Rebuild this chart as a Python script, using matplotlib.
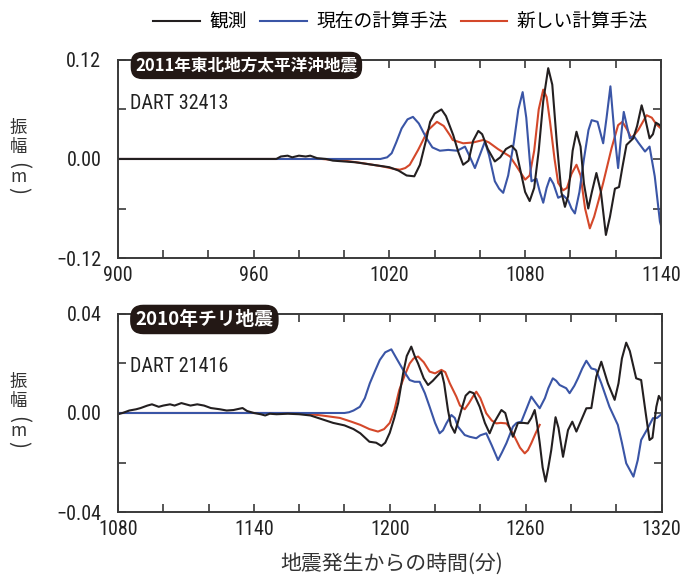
import numpy as np
import matplotlib.pyplot as plt
from matplotlib.lines import Line2D
from matplotlib.ticker import MultipleLocator, FuncFormatter

# ---- 2011 Tohoku, DART 32413 (minutes, metres) ----
top_obs_t = [900, 970, 972, 975, 977, 980, 983, 985, 988, 992, 995, 1000, 1005, 1010, 1015,
             1020, 1024, 1027.6, 1031, 1033.5, 1036.4, 1038, 1040, 1043, 1045, 1048.2, 1050.5,
             1052.6, 1055, 1057, 1059.3, 1061, 1063.5, 1066.6, 1069, 1071.5, 1074, 1076, 1078,
             1080, 1082, 1084, 1086, 1088, 1090.2, 1092, 1094, 1096, 1097.6, 1099, 1101, 1102.7,
             1104.5, 1106, 1107.9, 1109.5, 1111.5, 1113.5, 1115.7, 1117.5, 1119.7, 1121.5, 1123,
             1124.8, 1127.8, 1129.5, 1131.5, 1133, 1135, 1136.5, 1137.8, 1139, 1140]
top_obs_v = [0, 0, 0.003, 0.004, 0.002, 0.004, 0.003, 0.004, 0.001, 0, -0.002, -0.003, -0.004,
             -0.006, -0.008, -0.010, -0.014, -0.020, -0.021, -0.007, 0.025, 0.045, 0.055, 0.060,
             0.052, 0.029, 0.008, -0.007, -0.002, 0.022, 0.034, 0.030, 0.012, -0.003, 0.002,
             0.012, 0.016, 0.010, -0.015, -0.040, -0.051, -0.035, 0.010, 0.070, 0.110, 0.090,
             0.020, -0.040, -0.058, -0.045, 0.010, 0.033, 0.015, -0.030, -0.060, -0.040, -0.017,
             -0.040, -0.092, -0.070, -0.036, -0.034, -0.010, 0.017, 0.025, 0.040, 0.065, 0.050,
             0.025, 0.030, 0.044, 0.042, 0.040]

top_cur_t = [900, 1016, 1019, 1021, 1023, 1025.4, 1028, 1030.4, 1033, 1036.4, 1039, 1042.3,
             1046, 1050, 1053.4, 1055.5, 1057.8, 1060, 1062.2, 1064, 1066.6, 1068.5, 1070.3,
             1072.5, 1075, 1077, 1078.9, 1080.5, 1082.8, 1085, 1086.5, 1088, 1089.5, 1091,
             1092.5, 1094.6, 1096.8, 1099, 1100.5, 1102, 1104, 1106, 1108, 1109.4, 1112, 1114.5,
             1116, 1117.7, 1119.5, 1121.1, 1122.5, 1123.6, 1125, 1126.3, 1128, 1130, 1133, 1135,
             1137.3, 1139.6, 1140]
top_cur_v = [0, 0, 0.002, 0.007, 0.020, 0.037, 0.048, 0.051, 0.043, 0.025, 0.014, 0.010,
             0.011, 0.010, 0.015, 0.003, -0.011, 0.005, 0.021, 0.005, -0.027, -0.036, -0.041,
             -0.020, 0.020, 0.060, 0.081, 0.050, -0.027, -0.024, -0.040, -0.053, -0.035,
             -0.023, -0.030, -0.047, -0.044, -0.050, -0.060, -0.066, -0.040, 0.000, 0.035,
             0.047, 0.045, 0.019, 0.050, 0.088, 0.030, -0.011, 0.030, 0.057, 0.040, 0.025,
             0.028, 0.020, 0.009, 0.015, -0.021, -0.076, -0.080]

top_new_t = [900, 990, 995, 1000, 1008, 1017, 1022, 1024.6, 1027, 1029, 1032.7, 1037.1, 1041,
             1044, 1046.7, 1048, 1052.6, 1057, 1061.5, 1064, 1068, 1073.3, 1076, 1080, 1082,
             1084, 1086, 1088, 1089.5, 1091, 1093, 1094.6, 1096.8, 1098.5, 1100.5, 1102.7,
             1104.5, 1106.5, 1108.6, 1110.5, 1112.5, 1114.5, 1118.2, 1121.1, 1123, 1125, 1127,
             1130, 1133.7, 1136, 1138, 1140]
top_new_v = [0, 0, -0.001, -0.002, -0.005, -0.009, -0.012, -0.013, -0.011, -0.007, 0.011,
             0.035, 0.045, 0.040, 0.029, 0.023, 0.019, 0.020, 0.023, 0.020, 0.012, 0.003,
             -0.008, -0.025, -0.020, 0.010, 0.060, 0.084, 0.075, 0.045, 0.000, -0.029, -0.038,
             -0.035, -0.018, -0.007, -0.020, -0.060, -0.084, -0.070, -0.050, -0.029, 0.013,
             0.041, 0.045, 0.036, 0.025, 0.035, 0.053, 0.050, 0.042, 0.037]

# ---- 2010 Chile, DART 21416 ----
bot_obs_t = [1080, 1082, 1085, 1088, 1090, 1093, 1095, 1098, 1100, 1103, 1105, 1108, 1110,
             1112, 1115, 1118, 1121, 1125, 1128, 1131, 1135, 1137, 1140, 1143, 1145, 1147,
             1150, 1155, 1160, 1165, 1170, 1175, 1180, 1184, 1187, 1191, 1194, 1196.3, 1198,
             1200, 1202, 1203.7, 1205.9, 1207.5, 1209.5, 1211, 1212.5, 1215, 1216.9, 1219, 1221,
             1222.8, 1224, 1225.7, 1227, 1228.7, 1230, 1231.6, 1233.5, 1235.3, 1237, 1239.7,
             1242, 1244.1, 1246, 1249.3, 1251, 1252.5, 1254.4, 1256.6, 1259, 1261, 1262.5,
             1264, 1265, 1266.2, 1267.5, 1268.8, 1270, 1271.3, 1273.2, 1274.5, 1276.5, 1278.7,
             1280.6, 1282.4, 1284.6, 1286.8, 1289, 1291.2, 1293.4, 1296.3, 1299.3, 1301,
             1302.5, 1304.4, 1306, 1308.8, 1311, 1313, 1314.7, 1316, 1317.7, 1318.8, 1320]
bot_obs_v = [-0.0005, 0.0, 0.001, 0.0015, 0.002, 0.003, 0.0035, 0.0025, 0.003, 0.0035, 0.003,
             0.004, 0.0035, 0.003, 0.0035, 0.003, 0.002, 0.0015, 0.001, 0.0012, 0.002, 0.0008,
             0.0, -0.0005, -0.001, -0.0003, -0.0005, -0.0003, -0.0005, -0.001, -0.0025, -0.004,
             -0.005, -0.0065, -0.0082, -0.0116, -0.012, -0.0133, -0.012, -0.008, -0.002, 0.004,
             0.016, 0.023, 0.0268, 0.023, 0.020, 0.014, 0.0113, 0.013, 0.015, 0.0167, 0.012,
             0.0012, -0.005, -0.008, -0.004, 0.0012, 0.007, 0.0086, 0.008, 0.0025, -0.004,
             -0.0082, -0.004, 0.0012, 0.0, -0.005, -0.0096, -0.004, -0.004, -0.0042, -0.002,
             0.0012, -0.004, -0.012, -0.022, -0.0277, -0.022, -0.015, -0.0017, -0.006, -0.0177,
             -0.0069, -0.0035, -0.0075, -0.0028, 0.0019, 0.002, 0.0147, 0.0207, 0.012, 0.0053,
             0.012, 0.022, 0.0284, 0.025, 0.014, 0.0133, 0.0, -0.0109, -0.010, 0.0025, 0.0069,
             0.005]

bot_cur_t = [1080, 1180, 1182, 1184, 1186.8, 1189, 1191.2, 1193.5, 1195.6, 1198, 1200.7, 1203,
             1205.9, 1208.8, 1211, 1213.2, 1215.5, 1217.6, 1220, 1222, 1223.5, 1225, 1227.2,
             1228.7, 1230.1, 1233.1, 1235.3, 1238.2, 1240, 1242.6, 1245, 1247.8, 1249.5, 1251.5,
             1254.4, 1256, 1258.1, 1260.5, 1262.5, 1264.5, 1266.2, 1268.5, 1270, 1272, 1273.5,
             1275, 1277.9, 1279.4, 1281.5, 1283.1, 1285, 1286.8, 1289, 1291, 1293.4, 1297,
             1300.7, 1302.5, 1304.4, 1307.6, 1309.5, 1311, 1313.9, 1316.2, 1318, 1320]
bot_cur_v = [0, 0, 0.0003, 0.001, 0.0025, 0.006, 0.012, 0.017, 0.0214, 0.0245, 0.0257, 0.022,
             0.0174, 0.0133, 0.0126, 0.0126, 0.008, 0.0025, -0.004, -0.0082, -0.007, -0.0042,
             -0.0008, -0.002, -0.0055, -0.0089, -0.0096, -0.0102, -0.009, -0.0082, -0.013,
             -0.019, -0.016, -0.0122, -0.0055, -0.004, -0.0035, 0.002, 0.0066, 0.004, 0.0019,
             0.006, 0.010, 0.014, 0.013, 0.0113, 0.010, 0.008, 0.011, 0.014, 0.018, 0.0211,
             0.018, 0.0175, 0.012, 0.0025, -0.0048, -0.012, -0.0203, -0.0257, -0.019, -0.0109,
             -0.0062, -0.0021, -0.002, -0.0005]

bot_new_t = [1080, 1160, 1170, 1178, 1183, 1187, 1191, 1194.8, 1197.5, 1200, 1202, 1204.2,
             1206.5, 1208.8, 1210.5, 1212.5, 1215, 1217.6, 1220, 1222.8, 1224.5, 1226.5, 1229.4,
             1231, 1233.1, 1235, 1236.7, 1238.2, 1240, 1242.6, 1245, 1247, 1249, 1251.5, 1253,
             1255.1, 1257.5, 1259.6, 1261, 1262.5, 1264.5, 1266.2]
bot_new_v = [0, 0, -0.001, -0.002, -0.0035, -0.0048, -0.0065, -0.0075, -0.0065, -0.004, 0.001,
             0.0093, 0.015, 0.020, 0.022, 0.0228, 0.0205, 0.0167, 0.016, 0.0174, 0.0165, 0.012,
             0.0066, 0.003, 0.0015, 0.004, 0.0066, 0.0086, 0.006, -0.0001, -0.003, -0.0042,
             -0.004, -0.0042, -0.006, -0.0096, -0.014, -0.0163, -0.015, -0.0122, -0.008, -0.0048]

series_labels = ['観測', '現在の計算手法', '新しい計算手法']
series_colors = ['#231f20', '#3a55a6', '#d4482a']

NUM_FONT = ['Liberation Sans Narrow', 'Roboto Condensed', 'Liberation Sans']
JP_FONT = ['Noto Sans CJK JP', 'DejaVu Sans']

W, H = 682, 576
fig = plt.figure(figsize=(W / 100, H / 100), dpi=100)
ax1 = fig.add_axes([0.173, 0.552, 0.796, 0.344])
ax2 = fig.add_axes([0.173, 0.111, 0.797, 0.344])


def minus_fmt(v, pos):
    return f'{v:.2f}'.replace('-', '\u2212')


def style_axis(ax, xlim, ylim, ymaj, ymin):
    ax.set_xlim(*xlim)
    ax.set_ylim(*ylim)
    ax.xaxis.set_major_locator(MultipleLocator(60))
    ax.xaxis.set_minor_locator(MultipleLocator(20))
    ax.yaxis.set_major_locator(MultipleLocator(ymaj))
    ax.yaxis.set_minor_locator(MultipleLocator(ymin))
    ax.yaxis.set_major_formatter(FuncFormatter(minus_fmt))
    ax.tick_params(which='both', direction='in', length=6, width=1.2,
                   top=True, right=True, color='#3a3a3a')
    ax.tick_params(axis='y', pad=12)
    ax.tick_params(axis='x', pad=6)
    for sp in ax.spines.values():
        sp.set_color('#3a3a3a')
        sp.set_linewidth(1.4)
    for lab in ax.get_xticklabels() + ax.get_yticklabels():
        lab.set_fontfamily(NUM_FONT)
        lab.set_fontsize(14.5)
        lab.set_color('#222222')


panels = [
    (ax1, (900, 1140), (-0.12, 0.12), 0.12, 0.06,
     [(top_obs_t, top_obs_v), (top_cur_t, top_cur_v), (top_new_t, top_new_v)],
     '2011年東北地方太平洋沖地震', 12, 'DART 32413', 0.78),
    (ax2, (1080, 1320), (-0.04, 0.04), 0.04, 0.02,
     [(bot_obs_t, bot_obs_v), (bot_cur_t, bot_cur_v), (bot_new_t, bot_new_v)],
     '2010年チリ地震', 13.5, 'DART 21416', 0.735),
]

for ax, xlim, ylim, ymaj, ymin, data, title, tsize, station, sy in panels:
    # new method first, then current, observed on top
    for (t, v), c in zip(data[::-1], series_colors[::-1]):
        ax.plot(t, v, color=c, lw=1.5, solid_joinstyle='round')
    style_axis(ax, xlim, ylim, ymaj, ymin)
    ax.text(0.032, 0.972, title, transform=ax.transAxes, ha='left', va='center',
            color='white', fontsize=tsize, fontweight='bold',
            family=['Noto Sans CJK JP'],
            bbox=dict(boxstyle='round,pad=0.28,rounding_size=0.7', fc='#231815', ec='none'),
            zorder=5)
    ax.text(0.022, sy, station, transform=ax.transAxes, ha='left', va='center',
            color='#222222', fontsize=14.5, family=NUM_FONT)

    # vertical y label: upright kanji and m, rotated parentheses
    bb = ax.get_position()
    yc = (bb.y0 + bb.y1) / 2 * H
    xc = 0.027
    for ch, dy, rot, fs in [('振', 31, 0, 12.5), ('幅', 12, 0, 12.5), ('(', -7, -90, 15),
                            ('m', -18, 0, 12.5), (')', -32, -90, 15)]:
        fig.text(xc, (yc + dy) / H, ch, ha='center', va='center', rotation=rot,
                 rotation_mode='anchor', fontsize=fs, color='#333333', family=JP_FONT)

fig.text(0.574, 0.022, '地震発生からの時間(分)', ha='center', va='center',
         fontsize=15, color='#333333', family=JP_FONT)

handles = [Line2D([], [], color=c, lw=1.5) for c in series_colors]
fig.legend(handles, series_labels, loc='upper right', bbox_to_anchor=(0.975, 1.01),
           ncol=3, frameon=False, handlelength=2.5, handletextpad=0.5, columnspacing=0.7,
           prop={'family': JP_FONT, 'size': 13.5})

fig.savefig('out.png', dpi=100)
